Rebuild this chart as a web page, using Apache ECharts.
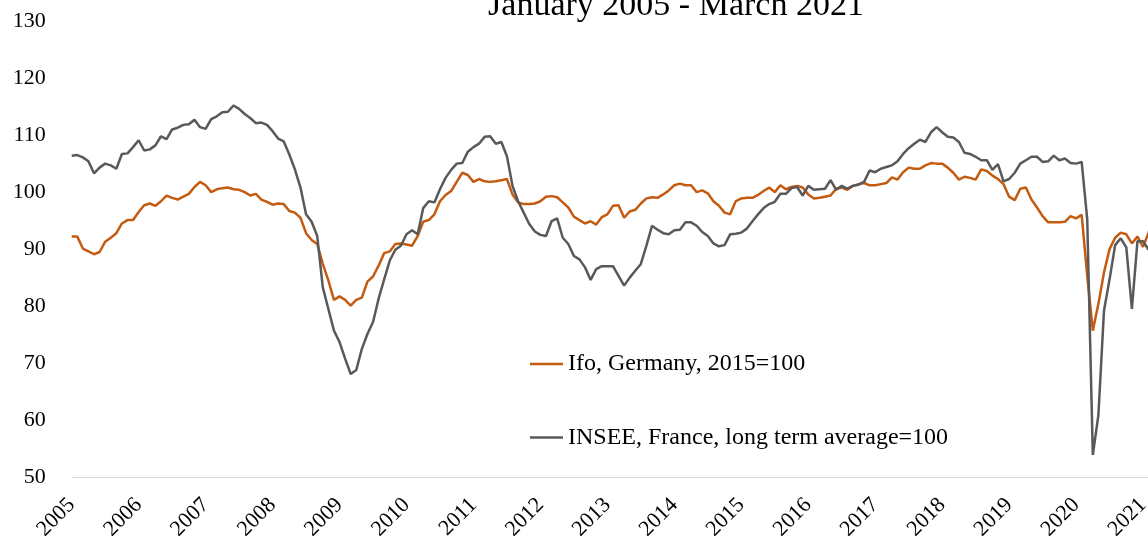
<!DOCTYPE html>
<html>
<head>
<meta charset="utf-8">
<title>Ifo vs INSEE business climate</title>
<script src="https://cdn.jsdelivr.net/npm/echarts@6/dist/echarts.min.js"></script>
<style>
  html, body { margin: 0; padding: 0; background: #fff; overflow: hidden; }
  /* the source picture is cropped on the right, so the canvas runs past the window */
  #chart { width: 1160px; height: 543px; }
</style>
</head>
<body>
<div id="chart"></div>
<script>
// monthly, Jan 2005 - Mar 2021
const years = [2005, 2006, 2007, 2008, 2009, 2010, 2011, 2012, 2013, 2014, 2015, 2016, 2017, 2018, 2019, 2020, 2021];
const lastMonth = 3;

const ifoGermany = [
  92.3, 92.3, 90.2, 89.7, 89.2, 89.6, 91.4, 92.1, 92.9, 94.6, 95.2, 95.2,
  96.6, 97.8, 98.1, 97.7, 98.5, 99.5, 99.1, 98.8, 99.3, 99.8, 101.0, 101.9,
  101.3, 100.1, 100.6, 100.8, 100.9, 100.6, 100.5, 100.1, 99.5, 99.8, 98.8, 98.4,
  97.9, 98.1, 98.0, 96.8, 96.5, 95.6, 92.9, 91.7, 91.0, 87.5, 84.6, 81.2,
  81.8, 81.2, 80.2, 81.2, 81.6, 84.4, 85.3, 87.2, 89.4, 89.7, 91.0, 91.1,
  90.9, 90.7, 92.4, 94.9, 95.2, 96.2, 98.5, 99.6, 100.3, 101.9, 103.5, 103.1,
  101.9, 102.4, 102.0, 101.9, 102.0, 102.2, 102.4, 99.7, 98.3, 98.0, 98.0, 98.1,
  98.5, 99.3, 99.4, 99.2, 98.3, 97.4, 95.8, 95.2, 94.6, 95.0, 94.4, 95.7,
  96.2, 97.7, 97.8, 95.6, 96.7, 97.0, 98.1, 99.0, 99.2, 99.1, 99.7, 100.4,
  101.3, 101.6, 101.3, 101.3, 100.1, 100.4, 99.9, 98.5, 97.7, 96.5, 96.2, 98.5,
  99.0, 99.1, 99.1, 99.6, 100.3, 100.9, 100.1, 101.3, 100.6, 101.0, 101.2, 100.9,
  99.7, 99.0, 99.1, 99.3, 99.5, 100.7, 100.9, 100.5, 101.2, 101.5, 101.7, 101.3,
  101.3, 101.5, 101.7, 102.7, 102.3, 103.6, 104.4, 104.2, 104.2, 104.8, 105.2, 105.1,
  105.1, 104.4, 103.5, 102.3, 102.8, 102.6, 102.3, 104.1, 103.8, 103.0, 102.4, 101.5,
  99.3, 98.7, 100.7, 100.9, 98.8, 97.4, 95.9, 94.8, 94.8, 94.8, 94.9, 95.9,
  95.5, 96.1, 85.4, 75.8, 80.5, 86.0, 90.1, 92.1, 93.0, 92.7, 91.1, 92.3,
  90.5, 93.0, 96.6
];

const inseeFrance = [
  106.5, 106.6, 106.2, 105.5, 103.4, 104.4, 105.1, 104.8, 104.2, 106.8, 106.9, 108.0,
  109.2, 107.4, 107.6, 108.3, 109.9, 109.4, 111.1, 111.4, 111.9, 112.0, 112.8, 111.5,
  111.2, 112.9, 113.4, 114.1, 114.2, 115.3, 114.7, 113.8, 113.1, 112.2, 112.3, 111.9,
  110.8, 109.5, 109.0, 106.7, 104.1, 100.9, 96.2, 94.9, 92.4, 83.4, 79.6, 75.8,
  73.8, 70.9, 68.2, 68.9, 72.6, 75.2, 77.3, 81.4, 84.8, 88.1, 90.0, 90.7,
  92.7, 93.4, 92.7, 97.3, 98.5, 98.3, 100.6, 102.6, 104.0, 105.1, 105.2, 107.2,
  108.0, 108.6, 109.8, 109.9, 108.6, 108.9, 106.4, 101.2, 98.5, 96.5, 94.5, 93.2,
  92.6, 92.4, 95.0, 95.5, 92.1, 91.0, 88.9, 88.3, 86.9, 84.7, 86.6, 87.1,
  87.1, 87.1, 85.4, 83.7, 85.1, 86.3, 87.5, 90.7, 94.2, 93.5, 92.9, 92.7,
  93.4, 93.5, 94.8, 94.8, 94.2, 93.1, 92.4, 91.1, 90.6, 90.8, 92.7, 92.8,
  93.0, 93.7, 95.0, 96.2, 97.3, 98.0, 98.4, 99.8, 99.8, 100.8, 101.0, 99.5,
  101.2, 100.5, 100.6, 100.7, 102.2, 100.5, 101.2, 100.7, 101.2, 101.4, 101.9, 103.9,
  103.6, 104.2, 104.5, 104.8, 105.5, 106.8, 107.8, 108.6, 109.3, 108.9, 110.6, 111.5,
  110.6, 109.8, 109.7, 108.9, 107.0, 106.8, 106.3, 105.7, 105.7, 104.0, 105.0, 102.0,
  102.4, 103.5, 105.1, 105.7, 106.3, 106.3, 105.4, 105.5, 106.5, 105.7, 106.0, 105.2,
  105.1, 105.4, 95.3, 54.0, 61.0, 79.3, 84.8, 90.8, 92.0, 90.4, 79.6, 91.5,
  91.5, 90.0, 91.0
];

const yTicks = [50, 60, 70, 80, 90, 100, 110, 120, 130];

const months = [];
years.forEach(function (y) {
  const n = y === years[years.length - 1] ? lastMonth : 12;
  for (let m = 1; m <= n; m++) {
    months.push(y + '-' + (m < 10 ? '0' + m : m));
  }
});

const font = '"Liberation Serif", "DejaVu Serif", serif';
const chart = echarts.init(document.getElementById('chart'));

const option = {
  animation: false,
  title: {
    text: 'January 2005 - March 2021',
    left: 671,
    top: -16,
    textAlign: 'center',
    textStyle: { fontFamily: font, fontSize: 34, fontWeight: 'normal', color: '#000' }
  },
  grid: { left: 71.7, right: 5.8, top: 21.7, bottom: 65.3, containLabel: false },
  legend: {
    orient: 'vertical',
    left: 525,
    top: 347,
    itemWidth: 33,
    itemHeight: 2.5,
    itemGap: 49.5,
    icon: 'rect',
    textStyle: { fontFamily: font, fontSize: 24, color: '#000', lineHeight: 24 },
    data: ['Ifo, Germany, 2015=100', 'INSEE, France, long term average=100']
  },
  xAxis: {
    type: 'category',
    data: months,
    boundaryGap: false,
    axisLine: { lineStyle: { color: '#d9d9d9', width: 1 } },
    axisTick: { show: false },
    axisLabel: {
      interval: 11,
      rotate: 45,
      margin: 24,
      fontFamily: font,
      fontSize: 22,
      color: '#000',
      formatter: function (v) { return v.slice(0, 4); }
    },
    splitLine: { show: false }
  },
  yAxis: {
    type: 'value',
    min: yTicks[0],
    max: yTicks[yTicks.length - 1],
    interval: 10,
    axisLine: { show: false },
    axisTick: { show: false },
    splitLine: { show: false },
    axisLabel: { margin: 26, fontFamily: font, fontSize: 22, color: '#000' }
  },
  series: [
    {
      name: 'Ifo, Germany, 2015=100',
      type: 'line',
      data: ifoGermany,
      symbol: 'none',
      lineStyle: { color: '#c55a11', width: 2.5 },
      itemStyle: { color: '#c55a11' }
    },
    {
      name: 'INSEE, France, long term average=100',
      type: 'line',
      data: inseeFrance,
      symbol: 'none',
      lineStyle: { color: '#595959', width: 2.5 },
      itemStyle: { color: '#595959' }
    }
  ]
};

chart.setOption(option);
window.addEventListener('resize', chart.resize);
</script>
</body>
</html>
